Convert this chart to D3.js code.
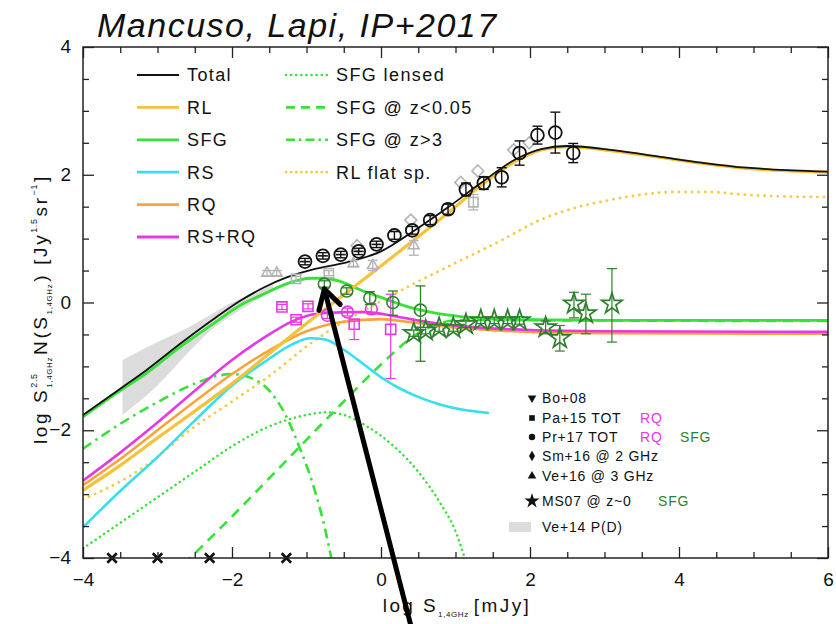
<!DOCTYPE html>
<html>
<head>
<meta charset="utf-8">
<script src="https://cdn.jsdelivr.net/npm/d3@7"></script>
<style>
  body { margin: 0; background: #fff; }
  svg text { font-family: "Liberation Sans", Arial, Helvetica, sans-serif; fill: #111; }
</style>
</head>
<body>
<svg id="chart" width="836" height="624"></svg>
<script>
// ---- model curves: [log S_1.4GHz (mJy), log S^2.5 N(S)] ----
const total = [[-4,-1.76],[-3.5,-1.35],[-3.15,-1.06],[-2.7,-0.65],[-2.26,-0.27],[-1.9,0.02],[-1.58,0.23],[-1.25,0.4],[-0.91,0.52],[-0.46,0.63],[0,0.8],[0.44,1.12],[0.9,1.49],[1.34,1.87],[1.79,2.23],[2.15,2.4],[2.5,2.45],[3.14,2.38],[3.75,2.28],[4.3,2.19],[4.9,2.11],[5.5,2.07],[6,2.05]];
const rl = [[-4,-2.94],[-3.5,-2.55],[-3,-2.12],[-2.5,-1.7],[-2,-1.27],[-1.5,-0.8],[-1,-0.33],[-0.5,0.12],[0,0.57],[0.26,0.81],[0.5,1.03],[0.94,1.44],[1.34,1.83],[1.79,2.2],[2.15,2.39],[2.5,2.44],[3.14,2.37],[3.75,2.27],[4.3,2.18],[4.9,2.1],[5.5,2.06],[6,2.04]];
const sfg = [[-4,-1.79],[-3.5,-1.38],[-3.15,-1.11],[-2.7,-0.7],[-2.26,-0.34],[-1.9,-0.05],[-1.58,0.13],[-1.25,0.3],[-0.95,0.38],[-0.75,0.38],[-0.55,0.33],[-0.28,0.2],[0,0.08],[0.4,-0.08],[0.75,-0.17],[1.07,-0.22],[1.5,-0.26],[2,-0.27],[3,-0.28],[6,-0.28]];
const rs = [[-4,-3.52],[-3.5,-2.95],[-3,-2.42],[-2.5,-1.85],[-2,-1.3],[-1.5,-0.88],[-1.2,-0.66],[-0.95,-0.56],[-0.75,-0.58],[-0.5,-0.74],[-0.25,-0.95],[0,-1.17],[0.26,-1.35],[0.44,-1.45],[0.8,-1.6],[1.1,-1.68],[1.45,-1.73]];
const rq = [[-4,-2.86],[-3.5,-2.45],[-3,-2.0],[-2.5,-1.55],[-2,-1.12],[-1.5,-0.75],[-1,-0.45],[-0.5,-0.3],[0,-0.26],[0.4,-0.31],[1.07,-0.4],[2,-0.46],[3,-0.48],[6,-0.49]];
const rsrq = [[-4,-2.79],[-3.5,-2.35],[-3,-1.88],[-2.5,-1.38],[-2,-0.9],[-1.5,-0.5],[-1.2,-0.3],[-1,-0.21],[-0.7,-0.16],[-0.4,-0.15],[-0.2,-0.15],[0.2,-0.22],[0.6,-0.3],[1.07,-0.37],[2,-0.43],[3,-0.45],[6,-0.46]];
const sfgLensed = [[-4,-3.85],[-3.5,-3.45],[-3,-3.05],[-2.5,-2.65],[-2,-2.25],[-1.5,-1.94],[-1,-1.76],[-0.75,-1.72],[-0.5,-1.76],[-0.2,-1.93],[0.2,-2.28],[0.5,-2.65],[0.8,-3.15],[1,-3.58],[1.15,-4.1]];
const sfgLowZ = [[-2.65,-4.1],[-2,-3.35],[-1.5,-2.75],[-1,-2.15],[-0.5,-1.55],[0,-0.97],[0.4,-0.56],[0.7,-0.36],[1,-0.28],[1.5,-0.27],[2.5,-0.28],[6,-0.29]];
const sfgHighZ = [[-4,-2.29],[-3.5,-1.9],[-3,-1.56],[-2.5,-1.27],[-2.2,-1.15],[-2,-1.12],[-1.75,-1.18],[-1.5,-1.38],[-1.3,-1.72],[-1.1,-2.25],[-0.9,-2.9],[-0.75,-3.55],[-0.65,-4.1]];
const rlFlat = [[-4,-3.08],[-3.5,-2.8],[-3.15,-2.55],[-2.57,-2.0],[-2,-1.55],[-1.5,-1.15],[-0.91,-0.61],[-0.5,-0.3],[0,0.02],[0.5,0.33],[1,0.62],[1.61,0.97],[2.15,1.3],[2.6,1.48],[3.05,1.6],[3.5,1.69],[3.95,1.73],[4.4,1.73],[4.86,1.69],[5.4,1.66],[6,1.65]];

// ---- P(D) band (Ve+14): log S, lower, upper ----
const pdX = [-3.47,-3.0,-2.6,-2.3,-2.0,-1.7,-1.45];
const pdLow = [-1.76,-1.3,-0.8,-0.45,-0.2,0.02,0.2];
const pdHigh = [-0.9,-0.62,-0.4,-0.2,0.0,0.15,0.28];

// ---- data points: [log S, value, err low, err high] ----
const pr17Tot = [[-1.02,0.64,0.05,0.05],[-0.78,0.73,0.05,0.05],[-0.54,0.75,0.05,0.05],[-0.3,0.8,0.05,0.05],[-0.06,0.91,0.05,0.05],[0.18,1.05,0.06,0.06],[0.42,1.13,0.06,0.06],[0.66,1.29,0.07,0.07],[0.9,1.46,0.08,0.08],[1.14,1.77,0.1,0.1],[1.38,1.87,0.1,0.1],[1.62,1.96,0.15,0.15],[1.86,2.34,0.19,0.19],[2.1,2.62,0.14,0.14],[2.34,2.66,0.32,0.32],[2.58,2.34,0.15,0.15]];
const pr17Rq = [[-0.72,-0.2,0.05,0.05],[-0.45,-0.15,0.06,0.06],[-0.13,-0.1,0.08,0.08]];
const pa15Rq = [[-1.33,-0.07,0.04,0.04],[-1.14,-0.27,0.04,0.04],[-0.98,-0.06,0.04,0.04],[-0.36,-0.34,0.24,0.05],[0.13,-0.42,0.77,0.55]];
const pr17Sfg = [[-0.76,0.29,0.05,0.05],[-0.46,0.18,0.05,0.05],[-0.15,0.07,0.1,0.1],[0.16,0.0,0.2,0.18],[0.53,-0.12,0.8,0.38]];
const ms07 = [[0.44,-0.48,0.05,0.05],[0.6,-0.44,0.05,0.05],[0.78,-0.4,0.05,0.05],[0.97,-0.4,0.05,0.05],[1.14,-0.34,0.05,0.05],[1.34,-0.28,0.05,0.05],[1.52,-0.28,0.05,0.05],[1.7,-0.28,0.05,0.05],[1.86,-0.28,0.06,0.06],[2.21,-0.39,0.1,0.1],[2.4,-0.56,0.2,0.2],[2.59,-0.02,0.22,0.18],[2.75,-0.17,0.32,0.3],[3.1,-0.02,0.6,0.55]];
const sm16 = [[-0.32,0.89],[0.4,1.29],[1.07,1.88],[1.3,2.06],[1.78,2.39],[1.99,2.5]];
const ve16 = [[-1.53,0.46,0.04,0.04],[-1.4,0.46,0.04,0.04],[-0.37,0.61,0.05,0.05],[-0.11,0.58,0.08,0.08],[0.44,0.89,0.15,0.08]];
const pa15Tot = [[-1.14,0.37,0.04,0.04],[-0.7,0.46,0.04,0.04],[1.24,1.57,0.12,0.12]];
const bo08Lim = [-3.61,-3.0,-2.3,-1.27];

// ---- axes ----
const xMajor = [-4,-2,0,2,4,6];
const yMajor = [-4,-2,0,2,4];

const W = 836, H = 624;
const m = { l: 83, r: 828, t: 47, b: 558 };
const x = d3.scaleLinear().domain([-4, 6]).range([m.l, m.r]);
const y = d3.scaleLinear().domain([-4, 4]).range([m.b, m.t]);

const svg = d3.select("#chart");
svg.append("rect").attr("width", W).attr("height", H).attr("fill", "#fff");

svg.append("defs").append("clipPath").attr("id", "plotClip")
  .append("rect").attr("x", m.l).attr("y", m.t).attr("width", m.r - m.l).attr("height", m.b - m.t);

const C = {
  green: "#35e235", dkgreen: "#2f7f2f", yellow: "#f5c23c", flat: "#f4cb45",
  cyan: "#35e0ee", orange: "#fba33a", magenta: "#e639e6", grey: "#b4b4b4"
};
const DOTS = { lensed: "0.1,5", flat: "0.1,6.5" };

const plot = svg.append("g").attr("clip-path", "url(#plotClip)");
const line = d3.line().x(d => x(d[0])).y(d => y(d[1])).curve(d3.curveMonotoneX);

// P(D) shaded band
const band = pdX.map((v, i) => [v, pdLow[i], pdHigh[i]]);
plot.append("path").datum(band)
  .attr("d", d3.area().x(d => x(d[0])).y0(d => y(d[1])).y1(d => y(d[2])).curve(d3.curveMonotoneX))
  .attr("fill", "#dcdcdc");

const curveList = [
  { d: sfgLensed, c: C.green, w: 2.5, dash: DOTS.lensed, round: true },
  { d: sfgHighZ, c: C.green, w: 2.6, dash: "10,5,2.5,5" },
  { d: sfgLowZ, c: C.green, w: 2.6, dash: "10,7" },
  { d: rlFlat, c: C.flat, w: 2.8, dash: DOTS.flat, round: true },
  { d: rs, c: C.cyan, w: 2.6 },
  { d: rq, c: C.orange, w: 2.6 },
  { d: rsrq, c: C.magenta, w: 2.6 },
  { d: sfg, c: C.green, w: 2.8 },
  { d: rl, c: C.yellow, w: 3.2 },
  { d: total, c: "#111", w: 1.8 }
];
curveList.forEach(s => {
  plot.append("path").datum(s.d).attr("d", line)
    .attr("fill", "none").attr("stroke", s.c).attr("stroke-width", s.w)
    .attr("stroke-dasharray", s.dash || null)
    .attr("stroke-linecap", s.round ? "round" : "butt");
});

// ---- error bars and markers ----
function errBars(g, pts, color, w) {
  const cap = 5;
  pts.forEach(p => {
    const x0 = x(p[0]), yl = y(p[1] - p[2]), yh = y(p[1] + p[3]);
    g.append("line").attr("x1", x0).attr("x2", x0).attr("y1", yl).attr("y2", yh).attr("stroke", color).attr("stroke-width", w);
    [yl, yh].forEach(yy => g.append("line").attr("x1", x0 - cap).attr("x2", x0 + cap).attr("y1", yy).attr("y2", yy).attr("stroke", color).attr("stroke-width", w));
  });
}
function markers(g, pts, type, size, color, sw) {
  g.selectAll(null).data(pts).join("path")
    .attr("transform", d => `translate(${x(d[0])},${y(d[1])})`)
    .attr("d", d3.symbol(type, size))
    .attr("fill", "none").attr("stroke", color).attr("stroke-width", sw);
}

const pts = svg.append("g").attr("clip-path", "url(#plotClip)");

// grey literature counts
errBars(pts, ve16, C.grey, 1.3);
errBars(pts, pa15Tot, C.grey, 1.3);
markers(pts, sm16, d3.symbolDiamond2, 90, C.grey, 1.6);
markers(pts, ve16, d3.symbolTriangle2, 80, C.grey, 1.6);
markers(pts, pa15Tot, d3.symbolSquare2, 110, C.grey, 1.6);

// Pr+17 total
errBars(pts, pr17Tot, "#111", 1.4);
markers(pts, pr17Tot, d3.symbolCircle, 130, "#111", 1.8);
pts.selectAll(null).data(pr17Tot.filter(d => d[0] < 0)).join("line")
  .attr("x1", d => x(d[0]) - 5).attr("x2", d => x(d[0]) + 5)
  .attr("y1", d => y(d[1])).attr("y2", d => y(d[1]))
  .attr("stroke", "#111").attr("stroke-width", 1.6);

// RQ counts
errBars(pts, pa15Rq, C.magenta, 1.2);
errBars(pts, pr17Rq, C.magenta, 1.2);
markers(pts, pa15Rq, d3.symbolSquare2, 130, C.magenta, 1.6);
markers(pts, pr17Rq, d3.symbolCircle, 110, C.magenta, 1.6);

// SFG counts
errBars(pts, pr17Sfg, C.dkgreen, 1.3);
markers(pts, pr17Sfg, d3.symbolCircle, 115, C.dkgreen, 1.6);
errBars(pts, ms07, C.dkgreen, 1.2);
markers(pts, ms07, d3.symbolStar, 130, C.dkgreen, 1.7);

// Bo+08 limits sitting on the lower axis
svg.append("g").selectAll(null).data(bo08Lim).join("path")
  .attr("transform", d => `translate(${x(d)},${y(-4)})`)
  .attr("d", d3.symbol(d3.symbolTimes, 60))
  .attr("fill", "none").attr("stroke", "#111").attr("stroke-width", 2.6);

// ---- frame and ticks (inward) ----
const minorX = d3.range(-4, 6.001, 0.5).filter(v => !xMajor.includes(v));
const minorY = d3.range(-4, 4.001, 0.5).filter(v => !yMajor.includes(v));
const axG = svg.append("g");
function addAxis(gen, transform, vals, size, labels) {
  const g = axG.append("g").attr("transform", transform)
    .call(gen.tickValues(vals).tickSize(-size).tickPadding(labels ? 11 : 0)
      .tickFormat(labels ? d3.format("d") : () => ""));
  g.select(".domain").remove();
  g.selectAll(".tick line").attr("stroke", "#222").attr("stroke-width", 1.3);
  g.selectAll("text").attr("font-size", 19).attr("fill", "#111").style("font-family", "'Liberation Sans', Arial, sans-serif");
  return g;
}
const xb = addAxis(d3.axisBottom(x), `translate(0,${m.b})`, xMajor, 11, true);
xb.selectAll("text").attr("dy", "0.9em");
addAxis(d3.axisBottom(x), `translate(0,${m.b})`, minorX, 6, false);
addAxis(d3.axisTop(x), `translate(0,${m.t})`, xMajor, 11, false);
addAxis(d3.axisTop(x), `translate(0,${m.t})`, minorX, 6, false);
const yl = addAxis(d3.axisLeft(y), `translate(${m.l},0)`, yMajor, 11, true);
yl.selectAll("text").attr("dy", "0.3em").attr("dx", "-1");
addAxis(d3.axisLeft(y), `translate(${m.l},0)`, minorY, 6, false);
addAxis(d3.axisRight(y), `translate(${m.r},0)`, yMajor, 11, false);
addAxis(d3.axisRight(y), `translate(${m.r},0)`, minorY, 6, false);
svg.append("rect").attr("x", m.l).attr("y", m.t).attr("width", m.r - m.l).attr("height", m.b - m.t)
  .attr("fill", "none").attr("stroke", "#222").attr("stroke-width", 1.5);

// ---- rich text helper (subscripts / superscripts) ----
function richText(g, runs, fs, ls) {
  let cx = 0;
  runs.forEach(r => {
    if (r.stack) {
      let wmax = 0;
      r.stack.forEach(s => {
        const t = g.append("text").attr("x", cx).attr("y", s.dy).attr("font-size", s.fs)
          .style("letter-spacing", "0.6px").text(s.t);
        wmax = Math.max(wmax, t.node().getComputedTextLength());
      });
      cx += wmax + 2;
    } else {
      const t = g.append("text").attr("x", cx).attr("y", r.dy || 0)
        .attr("font-size", r.fs || fs).style("letter-spacing", r.fs ? "0.6px" : ls).text(r.t);
      cx += t.node().getComputedTextLength() + (r.gap || 0);
    }
  });
  return cx;
}

// y-axis title
const yTitle = svg.append("g");
const yInner = yTitle.append("g");
const yw = richText(yInner, [
  { t: "log S" },
  { stack: [{ t: "2.5", fs: 9, dy: -10 }, { t: "1,4GHz", fs: 8, dy: 5 }] },
  { t: " N(S" },
  { t: "1,4GHz", fs: 8, dy: 5, gap: 2 },
  { t: ") [Jy" },
  { t: "1.5", fs: 9, dy: -10, gap: 2 },
  { t: " sr" },
  { t: "−1", fs: 9, dy: -10, gap: 2 },
  { t: "]" }
], 19, "2.6px");
yInner.attr("transform", `translate(${-yw / 2},0)`);
yTitle.attr("transform", "translate(47,309) rotate(-90)");

// x-axis title
const xTitle = svg.append("g");
const xInner = xTitle.append("g");
const xw = richText(xInner, [
  { t: "log S" },
  { t: "1,4GHz", fs: 8, dy: 5, gap: 5 },
  { t: "[mJy]" }
], 19, "2.4px");
xInner.attr("transform", `translate(${-xw / 2},0)`);
xTitle.attr("transform", "translate(457,612)");

// title
svg.append("text").attr("x", 97).attr("y", 37).attr("font-size", 34)
  .attr("font-style", "italic").style("letter-spacing", "1.5px").text("Mancuso, Lapi, IP+2017");

// ---- curve legend ----
const legendCurves = [
  { label: "Total", c: "#111", w: 2.2, col: 0, row: 0 },
  { label: "RL", c: C.yellow, w: 2.8, col: 0, row: 1 },
  { label: "SFG", c: C.green, w: 2.8, col: 0, row: 2 },
  { label: "RS", c: C.cyan, w: 2.8, col: 0, row: 3 },
  { label: "RQ", c: C.orange, w: 2.8, col: 0, row: 4 },
  { label: "RS+RQ", c: C.magenta, w: 2.8, col: 0, row: 5 },
  { label: "SFG lensed", c: C.green, w: 2.5, dash: DOTS.lensed, round: true, col: 1, row: 0 },
  { label: "SFG @ z<0.05", c: C.green, w: 2.6, dash: "9,6", col: 1, row: 1 },
  { label: "SFG @ z>3", c: C.green, w: 2.6, dash: "9,4,2.5,4", col: 1, row: 2 },
  { label: "RL flat sp.", c: C.flat, w: 2.8, dash: DOTS.lensed, round: true, col: 1, row: 3 }
];
const lg = svg.append("g");
legendCurves.forEach(e => {
  const x0 = e.col === 0 ? 137 : 286, yy = 75 + e.row * 32.4;
  lg.append("line").attr("x1", x0).attr("x2", x0 + 42).attr("y1", yy).attr("y2", yy)
    .attr("stroke", e.c).attr("stroke-width", e.w).attr("stroke-dasharray", e.dash || null)
    .attr("stroke-linecap", e.round ? "round" : "butt");
  lg.append("text").attr("x", x0 + 50).attr("y", yy).attr("dy", "0.36em")
    .attr("font-size", 18).style("letter-spacing", "1.4px").text(e.label);
});

// ---- data legend ----
const legendData = [
  { sym: d3.symbolTriangle, rot: 180, label: "Bo+08", y: 398 },
  { sym: d3.symbolSquare, label: "Pa+15 TOT", y: 418, extra: [{ t: "RQ", c: C.magenta, x: 640 }] },
  { sym: d3.symbolCircle, label: "Pr+17 TOT", y: 437, extra: [{ t: "RQ", c: C.magenta, x: 640 }, { t: "SFG", c: C.dkgreen, x: 680 }] },
  { sym: d3.symbolDiamond, label: "Sm+16 @ 2 GHz", y: 456 },
  { sym: d3.symbolTriangle, label: "Ve+16 @ 3 GHz", y: 476 },
  { sym: d3.symbolStar, label: "MS07 @ z~0", y: 501, big: true, extra: [{ t: "SFG", c: C.dkgreen, x: 658 }] },
  { box: true, label: "Ve+14 P(D)", y: 527 }
];
const dl = svg.append("g");
legendData.forEach(e => {
  if (e.box) {
    dl.append("rect").attr("x", 509).attr("y", e.y - 5).attr("width", 22).attr("height", 10).attr("fill", "#dcdcdc");
  } else {
    dl.append("path").attr("d", d3.symbol(e.sym, e.big ? 70 : 32))
      .attr("transform", `translate(532,${e.y}) rotate(${e.rot || 0})`).attr("fill", "#111");
  }
  dl.append("text").attr("x", 542).attr("y", e.y).attr("dy", "0.36em").attr("font-size", 14)
    .style("letter-spacing", "0.8px").text(e.label);
  (e.extra || []).forEach(t => dl.append("text").attr("x", t.x).attr("y", e.y).attr("dy", "0.36em")
    .attr("font-size", 14).style("letter-spacing", "0.8px").style("fill", t.c).text(t.t));
});

// ---- arrow pointing at the brightest Pr+17 SFG bin ----
const arrowTip = [-0.76, 0.21], arrowTail = [0.41, -5.1];
const ax1 = x(arrowTip[0]), ay1 = y(arrowTip[1]), ax2 = x(arrowTail[0]), ay2 = y(arrowTail[1]);
const ang = Math.atan2(ay2 - ay1, ax2 - ax1);
const ag = svg.append("g").attr("stroke", "#000").attr("stroke-width", 5).attr("stroke-linecap", "round");
ag.append("line").attr("x1", ax1).attr("y1", ay1).attr("x2", ax2).attr("y2", ay2);
[-0.55, 0.5].forEach(da => {
  ag.append("line").attr("x1", ax1).attr("y1", ay1)
    .attr("x2", ax1 + 22 * Math.cos(ang + da)).attr("y2", ay1 + 22 * Math.sin(ang + da));
});
</script>
</body>
</html>
